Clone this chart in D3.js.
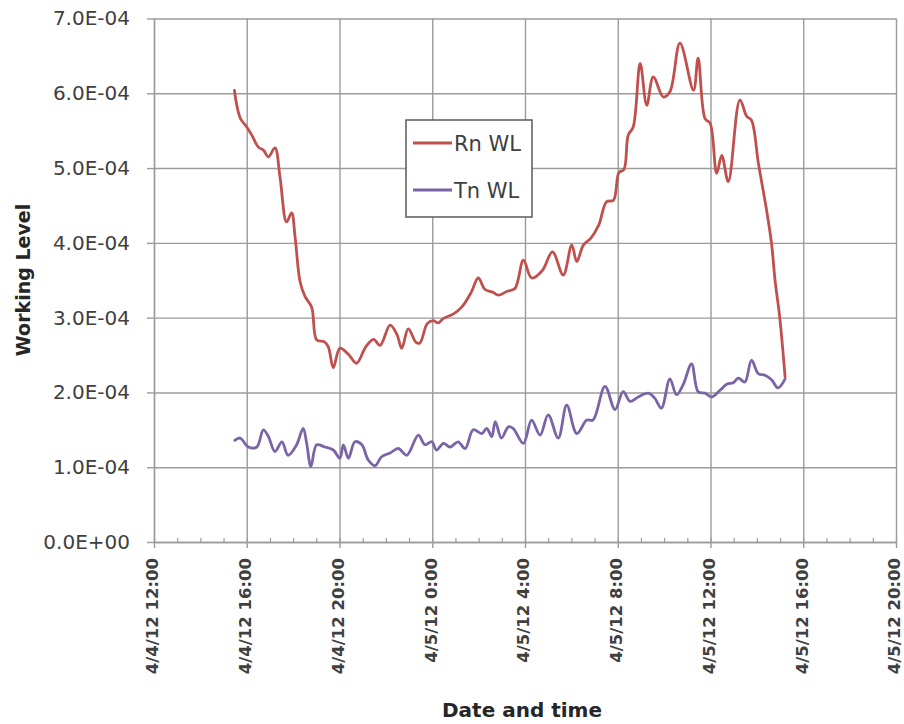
<!DOCTYPE html>
<html>
<head>
<meta charset="utf-8">
<script src="https://cdn.jsdelivr.net/npm/d3@7"></script>
<style>
  html, body { margin: 0; padding: 0; background: #fff; }
  svg { display: block; }
</style>
</head>
<body>
<svg id="chart" width="904" height="724"></svg>
<script>
// Radon (Rn) and thoron (Tn) working level, 4–5 April 2012.
// Sample times are hours counted from 4/4/12 12:00.
const startTime = new Date(2012, 3, 4, 12, 0);
const endTime = new Date(2012, 3, 5, 20, 0);

const rnHours = [
  3.46, 3.71, 4.00, 4.21, 4.50, 4.71, 4.93, 5.22, 5.43, 5.72,
  5.94, 6.08, 6.30, 6.51, 6.80, 7.02, 7.33, 7.52, 7.73, 8.02,
  8.38, 8.74, 9.14, 9.46, 9.75, 10.18, 10.48, 10.68, 10.97, 11.30,
  11.47, 11.79, 12.04, 12.26, 12.48, 12.91, 13.27, 13.66, 13.98, 14.27,
  14.62, 14.85, 15.21, 15.57, 15.94, 16.29, 16.75, 17.18, 17.65, 18.01,
  18.23, 18.51, 18.84, 19.19, 19.52, 19.81, 20.05, 20.27, 20.45, 20.67,
  20.96, 21.25, 21.53, 21.96, 22.25, 22.68, 23.26, 23.47, 23.76, 23.98,
  24.27, 24.48, 24.77, 25.27, 25.56, 25.77, 26.06, 26.42, 26.64, 26.78,
  26.99, 27.21
];
const rnWL = [
  6.04e-4, 5.67e-4, 5.55e-4, 5.44e-4, 5.28e-4, 5.24e-4, 5.15e-4, 5.27e-4, 4.88e-4, 4.28e-4,
  4.40e-4, 4.08e-4, 3.48e-4, 3.28e-4, 3.14e-4, 2.70e-4, 2.68e-4, 2.61e-4, 2.33e-4, 2.59e-4,
  2.51e-4, 2.39e-4, 2.61e-4, 2.71e-4, 2.63e-4, 2.90e-4, 2.77e-4, 2.59e-4, 2.85e-4, 2.67e-4,
  2.66e-4, 2.92e-4, 2.96e-4, 2.93e-4, 2.99e-4, 3.05e-4, 3.14e-4, 3.33e-4, 3.53e-4, 3.38e-4,
  3.34e-4, 3.30e-4, 3.35e-4, 3.39e-4, 3.77e-4, 3.53e-4, 3.63e-4, 3.88e-4, 3.57e-4, 3.97e-4,
  3.75e-4, 3.97e-4, 4.06e-4, 4.24e-4, 4.55e-4, 4.57e-4, 4.94e-4, 4.98e-4, 5.44e-4, 5.55e-4,
  6.40e-4, 5.84e-4, 6.22e-4, 5.95e-4, 6.02e-4, 6.67e-4, 6.04e-4, 6.47e-4, 5.66e-4, 5.60e-4,
  4.93e-4, 5.17e-4, 4.82e-4, 5.91e-4, 5.69e-4, 5.64e-4, 5.06e-4, 4.44e-4, 3.99e-4, 3.50e-4,
  3.01e-4, 2.21e-4
];

const tnHours = [
  3.49, 3.71, 4.07, 4.43, 4.71, 4.93, 5.22, 5.51, 5.79, 6.15,
  6.44, 6.59, 6.77, 7.02, 7.37, 7.73, 8.02, 8.16, 8.38, 8.67,
  8.96, 9.24, 9.53, 9.82, 10.18, 10.54, 10.90, 11.40, 11.69, 11.98,
  12.19, 12.48, 12.76, 13.12, 13.41, 13.77, 14.13, 14.35, 14.56, 14.71,
  14.99, 15.28, 15.49, 15.93, 16.29, 16.65, 17.00, 17.43, 17.80, 18.23,
  18.66, 18.94, 19.45, 19.88, 20.24, 20.53, 20.88, 21.32, 21.60, 21.89,
  22.25, 22.54, 22.82, 23.19, 23.47, 23.76, 24.05, 24.41, 24.70, 24.98,
  25.20, 25.49, 25.77, 26.06, 26.35, 26.64, 26.92, 27.21
];
const tnWL = [
  1.36e-4, 1.39e-4, 1.27e-4, 1.27e-4, 1.50e-4, 1.41e-4, 1.21e-4, 1.34e-4, 1.16e-4, 1.30e-4,
  1.52e-4, 1.32e-4, 1.01e-4, 1.30e-4, 1.27e-4, 1.23e-4, 1.12e-4, 1.30e-4, 1.12e-4, 1.34e-4,
  1.30e-4, 1.10e-4, 1.02e-4, 1.14e-4, 1.19e-4, 1.25e-4, 1.16e-4, 1.43e-4, 1.30e-4, 1.34e-4,
  1.23e-4, 1.32e-4, 1.27e-4, 1.34e-4, 1.25e-4, 1.50e-4, 1.45e-4, 1.52e-4, 1.41e-4, 1.61e-4,
  1.39e-4, 1.54e-4, 1.52e-4, 1.32e-4, 1.63e-4, 1.43e-4, 1.70e-4, 1.39e-4, 1.83e-4, 1.45e-4,
  1.63e-4, 1.63e-4, 2.08e-4, 1.77e-4, 2.01e-4, 1.88e-4, 1.94e-4, 1.99e-4, 1.92e-4, 1.79e-4,
  2.18e-4, 1.97e-4, 2.10e-4, 2.38e-4, 2.01e-4, 1.99e-4, 1.94e-4, 2.03e-4, 2.11e-4, 2.13e-4,
  2.19e-4, 2.14e-4, 2.43e-4, 2.25e-4, 2.23e-4, 2.17e-4, 2.06e-4, 2.18e-4
];

const seriesNames = ["Rn WL", "Tn WL"];
const seriesColors = ["#c0504d", "#7b64a6"];
const yTickValues = [0, 1e-4, 2e-4, 3e-4, 4e-4, 5e-4, 6e-4, 7e-4];
const yTitle = "Working Level";
const xTitle = "Date and time";

// ---- layout ----
const plot = { left: 154, right: 896, top: 18.5, bottom: 542 };
const gridColor = "#9b9b9b";
const textColor = "#404040";

const svg = d3.select("#chart");

const x = d3.scaleTime().domain([startTime, endTime]).range([plot.left, plot.right]);
const y = d3.scaleLinear().domain([0, 7e-4]).range([plot.bottom, plot.top]);

const toSeries = (hours, vals) =>
  hours.map((h, i) => ({ t: d3.timeMinute.offset(startTime, Math.round(h * 60)), v: vals[i] }));
const series = [toSeries(rnHours, rnWL), toSeries(tnHours, tnWL)];

// scientific labels such as 7.0E-04 and 0.0E+00
function sci(d) {
  if (d === 0) return "0.0E+00";
  const e = Math.floor(Math.log10(d) + 1e-9);
  const m = d / Math.pow(10, e);
  return m.toFixed(1) + "E" + (e < 0 ? "-" : "+") + String(Math.abs(e)).padStart(2, "0");
}
const fmtX = d => `${d.getMonth() + 1}/${d.getDate()}/12 ${d.getHours()}:00`;
const xMajor = d3.timeHour.every(4).range(startTime, d3.timeMinute.offset(endTime, 1));
const xMinor = d3.timeHour.every(1).range(startTime, d3.timeMinute.offset(endTime, 1));

// ---- gridlines ----
const gridY = svg.append("g")
  .attr("transform", `translate(${plot.left},0)`)
  .call(d3.axisLeft(y).tickValues(yTickValues).tickSize(-(plot.right - plot.left)).tickFormat(""));
const gridX = svg.append("g")
  .attr("transform", `translate(0,${plot.bottom})`)
  .call(d3.axisBottom(x).tickValues(xMajor).tickSize(-(plot.bottom - plot.top)).tickFormat(""));
[gridY, gridX].forEach(g => {
  g.select(".domain").remove();
  g.selectAll("line").attr("stroke", gridColor).attr("stroke-width", 1.4);
});

// ---- y axis with labels ----
const yAxis = svg.append("g")
  .attr("transform", `translate(${plot.left},0)`)
  .call(d3.axisLeft(y).tickValues(yTickValues).tickSize(7).tickSizeOuter(0).tickPadding(17).tickFormat(sci));
yAxis.select(".domain").attr("stroke", gridColor).attr("stroke-width", 1.4);
yAxis.selectAll("line").attr("stroke", gridColor).attr("stroke-width", 1.4);
yAxis.selectAll("text")
  .attr("fill", textColor)
  .style("font-family", "'DejaVu Sans', sans-serif")
  .style("font-size", "20px");

// ---- x axis: hourly minor ticks, 4-hour major ticks with rotated labels ----
const xMinorAxis = svg.append("g")
  .attr("transform", `translate(0,${plot.bottom})`)
  .call(d3.axisBottom(x).tickValues(xMinor).tickSize(-4).tickSizeOuter(0).tickFormat(""));
xMinorAxis.select(".domain").remove();
xMinorAxis.selectAll("line").attr("stroke", gridColor).attr("stroke-width", 1.2);

const xAxis = svg.append("g")
  .attr("transform", `translate(0,${plot.bottom})`)
  .call(d3.axisBottom(x).tickValues(xMajor).tickSize(6).tickSizeOuter(0).tickFormat(fmtX));
xAxis.select(".domain").attr("stroke", gridColor).attr("stroke-width", 1.4);
xAxis.selectAll("line").attr("stroke", gridColor).attr("stroke-width", 1.4);
xAxis.selectAll("text")
  .attr("transform", "rotate(-90)")
  .attr("x", -16)
  .attr("y", 0)
  .attr("dy", "0.24em")
  .attr("text-anchor", "end")
  .attr("fill", textColor)
  .style("font-family", "'DejaVu Sans', sans-serif")
  .style("font-weight", "bold")
  .style("font-size", "16.5px");

// ---- series lines ----
const line = d3.line()
  .x(d => x(d.t))
  .y(d => y(d.v))
  .curve(d3.curveCatmullRom.alpha(0.5));

svg.append("g").selectAll("path")
  .data(series)
  .join("path")
  .attr("d", line)
  .attr("fill", "none")
  .attr("stroke", (d, i) => seriesColors[i])
  .attr("stroke-width", 2.8)
  .attr("stroke-linejoin", "round")
  .attr("stroke-linecap", "round");

// ---- legend ----
const legend = svg.append("g").attr("transform", "translate(406,120)");
legend.append("rect")
  .attr("width", 126).attr("height", 97)
  .attr("fill", "#fff")
  .attr("stroke", "#5a5a5a")
  .attr("stroke-width", 1.5);
const items = legend.selectAll("g.item")
  .data(seriesNames)
  .join("g")
  .attr("class", "item")
  .attr("transform", (d, i) => `translate(0,${23 + i * 47})`);
items.append("line")
  .attr("x1", 7).attr("x2", 46)
  .attr("stroke", (d, i) => seriesColors[i])
  .attr("stroke-width", 2.8);
items.append("text")
  .attr("x", 48)
  .attr("dy", "0.36em")
  .attr("fill", textColor)
  .style("font-family", "'DejaVu Sans', sans-serif")
  .style("font-size", "21px")
  .text(d => d);

// ---- axis titles ----
svg.append("text")
  .attr("transform", "translate(30,280) rotate(-90)")
  .attr("text-anchor", "middle")
  .attr("fill", "#262626")
  .style("font-family", "'DejaVu Sans', sans-serif")
  .style("font-weight", "bold")
  .style("font-size", "19px")
  .text(yTitle);

svg.append("text")
  .attr("x", 522)
  .attr("y", 717)
  .attr("text-anchor", "middle")
  .attr("fill", "#262626")
  .style("font-family", "'DejaVu Sans', sans-serif")
  .style("font-weight", "bold")
  .style("font-size", "20px")
  .text(xTitle);
</script>
</body>
</html>
